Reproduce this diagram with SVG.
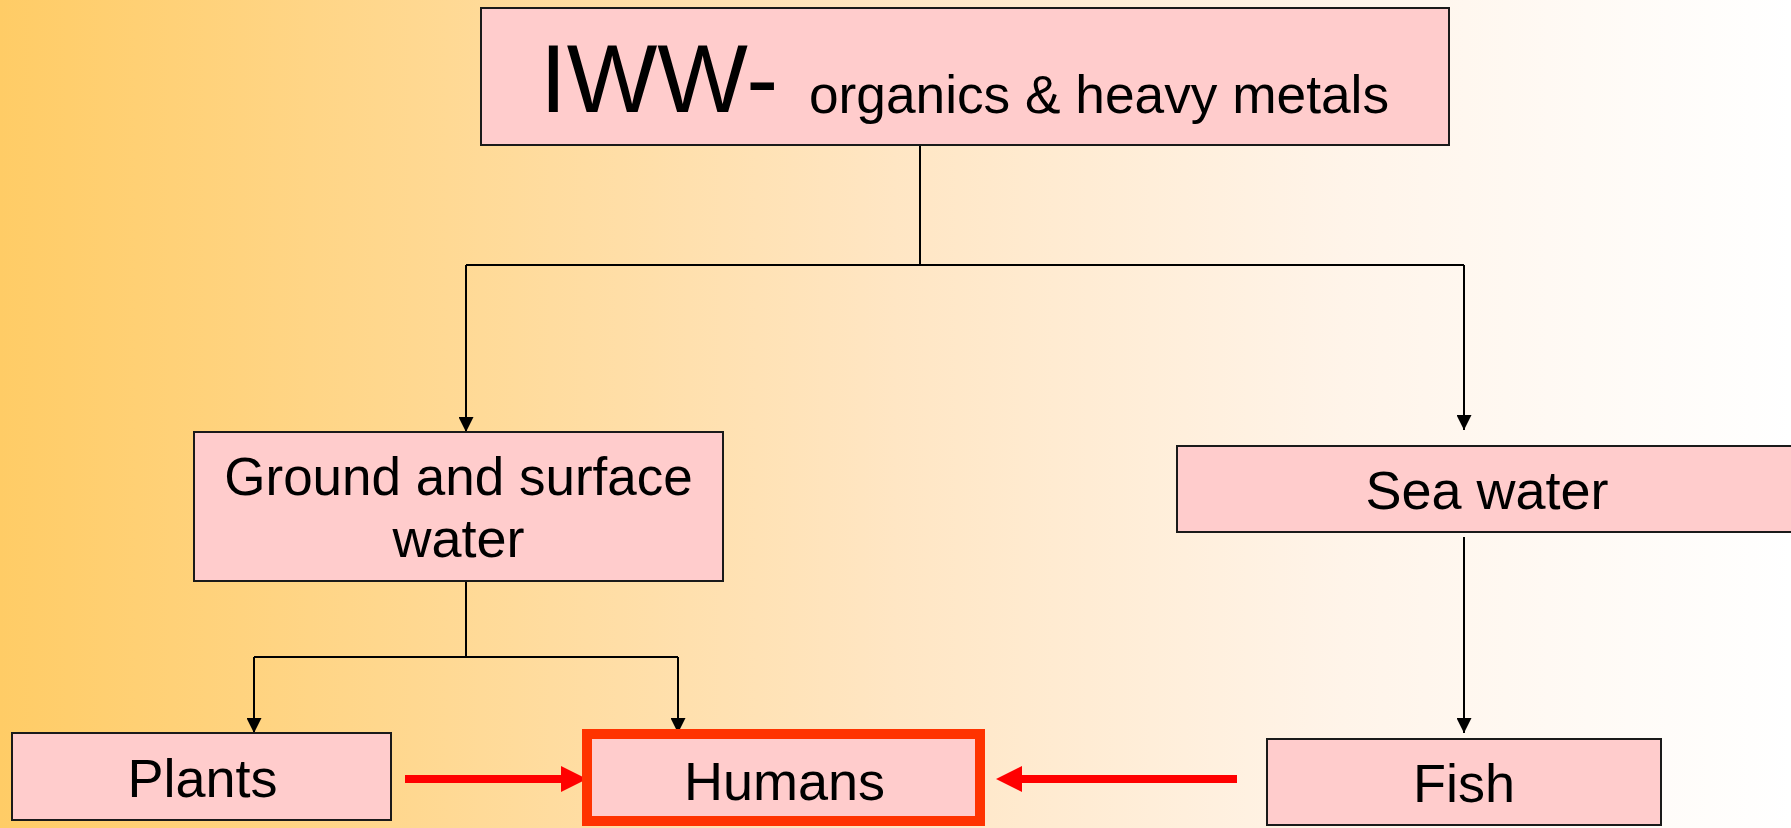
<svg xmlns="http://www.w3.org/2000/svg" width="1791" height="828" viewBox="0 0 1791 828">
  <defs>
    <linearGradient id="bg" x1="0" y1="0" x2="1" y2="0">
      <stop offset="0" stop-color="#FFCC66"/>
      <stop offset="0.25" stop-color="#FFD994"/>
      <stop offset="0.5" stop-color="#FFE6C4"/>
      <stop offset="0.75" stop-color="#FFF4E9"/>
      <stop offset="1" stop-color="#FFFFFF"/>
    </linearGradient>
    <marker id="ab" markerUnits="userSpaceOnUse" markerWidth="15" markerHeight="15" refX="15" refY="7.5" orient="auto">
      <path d="M0,0 L15,7.5 L0,15 z" fill="#000"/>
    </marker>
    <marker id="ar" markerUnits="userSpaceOnUse" markerWidth="26" markerHeight="26" refX="0" refY="13" orient="auto">
      <path d="M0,0 L26,13 L0,26 z" fill="#FF0000"/>
    </marker>
  </defs>
  <style>
    .box { fill: #FFCCCC; stroke: #1a1a1a; stroke-width: 2; }
    .hum { fill: #FFCCCC; stroke: #FF3300; stroke-width: 10; }
    .t { font-family: "Liberation Sans", Arial, sans-serif; fill: #000; }
    .lbl { font-size: 54px; text-anchor: middle; }
    .c { fill: none; stroke: #000; stroke-width: 2; }
    .r { fill: none; stroke: #FF0000; stroke-width: 8; }
  </style>
  <rect x="0" y="0" width="1791" height="828" fill="url(#bg)"/>

  <g id="connectors">
    <path class="c" d="M920,145 V265 M466,265 H1464"/>
    <path class="c" d="M466,265 V432" marker-end="url(#ab)"/>
    <path class="c" d="M1464,265 V430" marker-end="url(#ab)"/>
    <path class="c" d="M466,567 V657 M254,657 H678"/>
    <path class="c" d="M254,657 V733" marker-end="url(#ab)"/>
    <path class="c" d="M678,657 V733" marker-end="url(#ab)"/>
    <path class="c" d="M1464,537 V733" marker-end="url(#ab)"/>
    <path class="r" d="M405,779 H561" marker-end="url(#ar)"/>
    <path class="r" d="M1237,779 H1022" marker-end="url(#ar)"/>
  </g>

  <g id="iww">
    <rect class="box" x="481" y="8" width="968" height="137"/>
    <text class="t" x="540" y="112" font-size="96">IWW-</text>
    <text class="t" x="809" y="113" font-size="54" textLength="580" lengthAdjust="spacingAndGlyphs">organics &amp; heavy metals</text>
  </g>

  <g id="ground">
    <rect class="box" x="194" y="432" width="529" height="149"/>
    <text class="t lbl" x="458.5" y="495" font-size="53" style="font-size:53px">Ground and surface</text>
    <text class="t lbl" x="458.5" y="557">water</text>
  </g>

  <g id="sea">
    <rect class="box" x="1177" y="446" width="630" height="86"/>
    <text class="t lbl" x="1487" y="509">Sea water</text>
  </g>

  <g id="plants">
    <rect class="box" x="12" y="733" width="379" height="87"/>
    <text class="t lbl" x="202.5" y="797">Plants</text>
  </g>

  <g id="humans">
    <rect class="hum" x="587" y="734" width="393" height="87"/>
    <text class="t lbl" x="784.5" y="800">Humans</text>
  </g>

  <g id="fish">
    <rect class="box" x="1267" y="739" width="394" height="86"/>
    <text class="t lbl" x="1464" y="802">Fish</text>
  </g>
</svg>
